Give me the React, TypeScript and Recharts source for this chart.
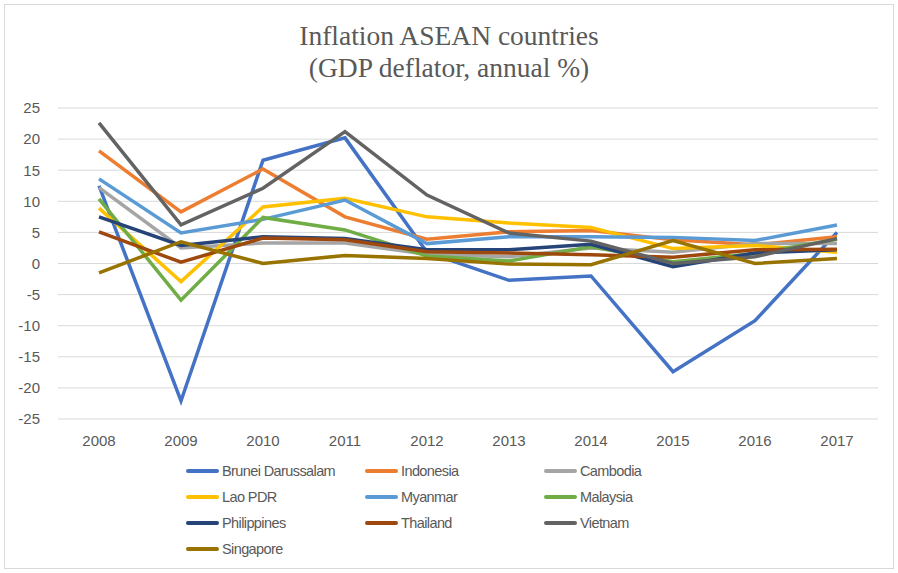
import { LineChart, Line, XAxis, YAxis, CartesianGrid } from 'recharts'

const years = ['2008', '2009', '2010', '2011', '2012', '2013', '2014', '2015', '2016', '2017']
const yTicks = [-25, -20, -15, -10, -5, 0, 5, 10, 15, 20, 25]

const brunei = [12.5, -22.1, 16.6, 20.2, 1.8, -2.7, -2.0, -17.4, -9.2, 5.0]
const indonesia = [18.1, 8.3, 15.2, 7.5, 3.9, 5.1, 5.3, 3.8, 3.0, 4.3]
const cambodia = [12.2, 2.5, 3.3, 3.3, 1.5, 1.1, 2.5, 1.8, 3.2, 3.2]
const lao = [8.9, -2.9, 9.1, 10.5, 7.5, 6.5, 5.8, 2.4, 2.9, 1.8]
const myanmar = [13.6, 4.9, 7.1, 10.2, 3.2, 4.3, 4.3, 4.2, 3.7, 6.2]
const malaysia = [10.4, -5.9, 7.4, 5.4, 1.2, 0.4, 2.7, 0.3, 1.6, 3.9]
const philippines = [7.5, 2.9, 4.3, 4.0, 2.2, 2.2, 3.1, -0.5, 1.7, 2.2]
const thailand = [5.1, 0.2, 4.1, 3.8, 1.9, 1.7, 1.4, 1.0, 2.2, 2.3]
const vietnam = [22.6, 6.2, 12.1, 21.2, 11.0, 4.9, 3.6, 0.0, 1.1, 4.0]
const singapore = [-1.5, 3.5, 0.0, 1.3, 0.8, -0.1, -0.2, 3.7, 0.0, 0.8]

const series = [
  { name: 'Brunei Darussalam', values: brunei, color: '#4472C4' },
  { name: 'Indonesia', values: indonesia, color: '#ED7D31' },
  { name: 'Cambodia', values: cambodia, color: '#A5A5A5' },
  { name: 'Lao PDR', values: lao, color: '#FFC000' },
  { name: 'Myanmar', values: myanmar, color: '#5B9BD5' },
  { name: 'Malaysia', values: malaysia, color: '#70AD47' },
  { name: 'Philippines', values: philippines, color: '#264478' },
  { name: 'Thailand', values: thailand, color: '#9E480E' },
  { name: 'Vietnam', values: vietnam, color: '#636363' },
  { name: 'Singapore', values: singapore, color: '#997300' },
]

const data = years.map((year, i) => {
  const row: Record<string, string | number> = { year }
  series.forEach((s) => { row[s.name] = s.values[i] })
  return row
})

const labelFont = "'Liberation Sans', Arial, sans-serif"

function LegendBox() {
  return (
    <div style={{ position: 'absolute', left: 186, top: 458, display: 'grid', gridTemplateColumns: '179px 179px 179px' }}>
      {series.map((s) => (
        <div key={s.name} style={{ display: 'flex', alignItems: 'center', height: 26 }}>
          <span style={{ display: 'inline-block', width: 33, height: 4, background: s.color, borderRadius: 2 }} />
          <span style={{ marginLeft: 3, fontFamily: labelFont, fontSize: 14.5, letterSpacing: -0.6, color: '#595959' }}>{s.name}</span>
        </div>
      ))}
    </div>
  )
}

export default function App() {
  return (
    <div style={{ position: 'absolute', left: 0, top: 0, width: 898, height: 573, background: '#fff' }}>
      <div style={{ position: 'absolute', left: 4, top: 4, width: 888, height: 563, border: '1px solid #D9D9D9' }} />
      <div style={{ position: 'absolute', left: 0, top: 20, width: 898, textAlign: 'center', fontFamily: "'Liberation Serif', 'Times New Roman', serif", fontSize: 27.5, lineHeight: '32px', color: '#595959' }}>
        Inflation ASEAN countries<br />(GDP deflator, annual %)
      </div>
      <LineChart width={898} height={573} data={data} margin={{ top: 108, right: 20, bottom: 124, left: 0 }}
        style={{ position: 'absolute', left: 0, top: 0 }}>
        <CartesianGrid vertical={false} stroke="#D9D9D9" strokeWidth={1} />
        <XAxis dataKey="year" axisLine={false} tickLine={false} tickSize={0} tickMargin={16} interval={0}
          padding={{ left: 41, right: 41 }} height={30}
          tick={{ fontSize: 15, fill: '#595959', fontFamily: labelFont }} />
        <YAxis domain={[-25, 25]} ticks={yTicks} interval={0} width={58} axisLine={false} tickLine={false} tickSize={0} tickMargin={18}
          tick={{ fontSize: 15, fill: '#595959', fontFamily: labelFont }} />
        {series.map((s) => (
          <Line key={s.name} type="linear" dataKey={s.name} stroke={s.color} strokeWidth={3.5}
            dot={false} activeDot={false} isAnimationActive={false} />
        ))}
      </LineChart>
      <LegendBox />
    </div>
  )
}
